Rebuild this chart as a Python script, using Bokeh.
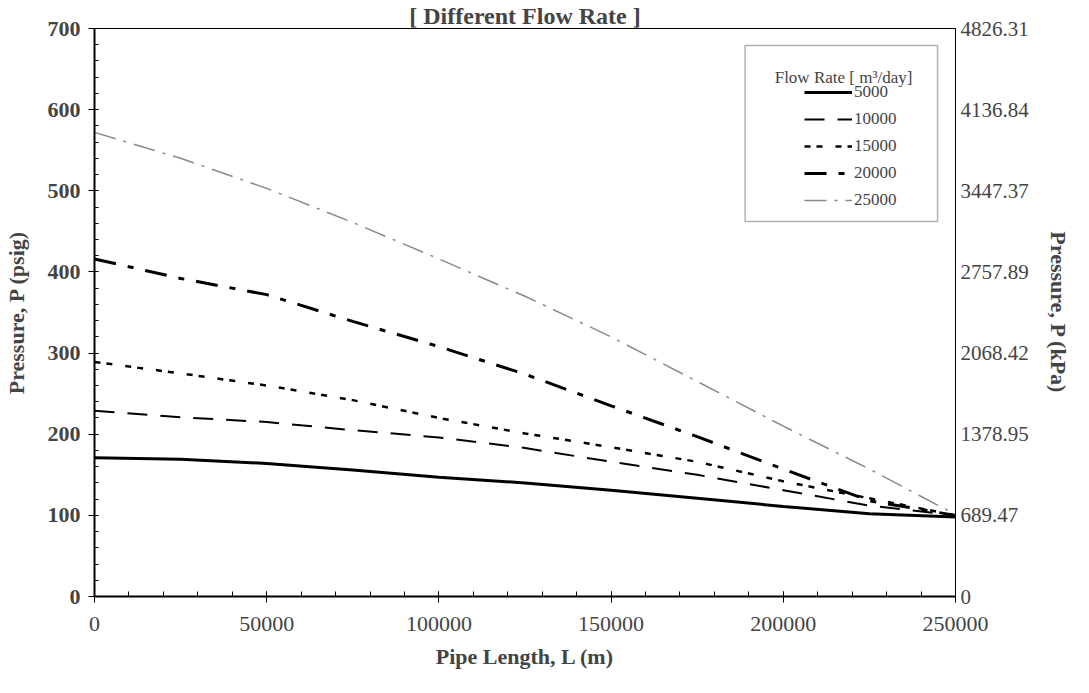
from bokeh.plotting import figure
from bokeh.models import (Range1d, LinearAxis, FixedTicker, SingleIntervalTicker,
                          CustomJSTickFormatter, BasicTickFormatter, Legend, LegendItem,
                          Label, BoxAnnotation, ColumnDataSource)
from bokeh.embed import file_html
from bokeh.resources import INLINE

# ---- data (pipe length in m, pressure in psig) ----
pipe_length = [0, 25000, 50000, 75000, 100000, 125000, 150000, 175000, 200000, 225000, 250000]
p_5000 = [171, 169, 164, 156, 147, 140, 131, 121, 111, 102, 98]
p_10000 = [229, 221, 215, 205, 196, 183, 166, 150, 131, 112, 100]
p_15000 = [289, 275, 260, 242, 220, 201, 184, 166, 142, 121, 100]
p_20000 = [416, 392, 372, 339, 308, 274, 235, 197, 157, 118, 100]
p_25000 = [572, 540, 503, 461, 416, 370, 320, 265, 210, 157, 101]
series_names = ["5000", "10000", "15000", "20000", "25000"]
kpa_ticks = [0, 689.47, 1378.95, 2068.42, 2757.89, 3447.37, 4136.84, 4826.31]

FONT = "Liberation Serif"

src = ColumnDataSource(dict(L=pipe_length, a=p_5000, b=p_10000, c=p_15000, d=p_20000, e=p_25000))

p = figure(width=1073, height=677, output_backend="svg", toolbar_location=None,
           x_range=Range1d(0, 250000), y_range=Range1d(0, 700),
           min_border_left=89, min_border_right=116, min_border_top=0, min_border_bottom=81)
p.extra_y_ranges = {"kpa": Range1d(0, 4826.31)}
p.grid.visible = False
p.background_fill_color = "white"
p.border_fill_color = "white"
p.outline_line_color = "black"
p.outline_line_width = 1

# title
p.title.text = "[ Different Flow Rate ]"
p.title.align = "center"
p.title.text_font = FONT
p.title.text_font_size = "24px"
p.title.text_font_style = "bold"
p.title.text_line_height = 0.6
p.title.standoff = 0
p.title.offset = 22

# bottom axis
xa = p.xaxis[0]
xa.ticker = SingleIntervalTicker(interval=50000, num_minor_ticks=5)
xa.formatter = BasicTickFormatter(use_scientific=False)
xa.axis_label = "Pipe Length, L (m)"
xa.axis_label_text_font = FONT
xa.axis_label_text_font_size = "22px"
xa.axis_label_text_font_style = "bold"
xa.axis_label_standoff = 10
xa.major_label_text_font = FONT
xa.major_label_text_font_size = "22px"
xa.major_label_standoff = 14
xa.axis_line_width = 2
xa.major_tick_in = 5
xa.major_tick_out = 6
xa.minor_tick_in = 5
xa.minor_tick_out = 0

# left axis
ya = p.yaxis[0]
ya.ticker = SingleIntervalTicker(interval=100, num_minor_ticks=5)
ya.axis_label = "Pressure, P (psig)"
ya.axis_label_text_font = FONT
ya.axis_label_text_font_size = "22px"
ya.axis_label_text_font_style = "bold"
ya.axis_label_standoff = 16
ya.major_label_text_font = FONT
ya.major_label_text_font_size = "22px"
ya.major_label_text_font_style = "bold"
ya.major_label_standoff = 8
ya.axis_line_width = 2
ya.major_tick_in = 4
ya.major_tick_out = 6
ya.minor_tick_in = 4
ya.minor_tick_out = 0

# right axis (kPa)
ra = LinearAxis(y_range_name="kpa", ticker=FixedTicker(ticks=kpa_ticks))
ra.formatter = CustomJSTickFormatter(code="return tick == 0 ? '0' : tick.toFixed(2);")
ra.axis_label = "Pressure, P (kPa)"
ra.axis_label_text_font = FONT
ra.axis_label_text_font_size = "22px"
ra.axis_label_text_font_style = "bold"
ra.axis_label_standoff = 14
ra.major_label_text_font = FONT
ra.major_label_text_font_size = "21px"
ra.major_label_standoff = 5
ra.major_tick_in = 0
ra.major_tick_out = 0
ra.minor_tick_in = 0
ra.minor_tick_out = 0
ra.axis_line_width = 1
p.add_layout(ra, "right")

# lines
r1 = p.line("L", "a", source=src, line_color="black", line_width=3)
r2 = p.line("L", "b", source=src, line_color="black", line_width=2, line_dash="20 13")
r3 = p.line("L", "c", source=src, line_color="black", line_width=2.5, line_dash="6 6 6 13")
r4 = p.line("L", "d", source=src, line_color="black", line_width=3, line_dash="22 12 6 12")
r5 = p.line("L", "e", source=src, line_color="#8a8a8a", line_width=1.5, line_dash="22 8 3 8")

# legend box + title
p.add_layout(BoxAnnotation(left=188900, right=244800, bottom=462, top=679,
                           fill_color="white", fill_alpha=1, line_color="black", line_width=1.5))
p.add_layout(Label(x=217500, y=640, text="Flow Rate [ m\u00b3/day]",
                   text_font=FONT, text_font_size="17px",
                   text_align="center", text_baseline="alphabetic"))
legend = Legend(items=[LegendItem(label=n, renderers=[r]) for n, r in zip(series_names, [r1, r2, r3, r4, r5])],
                location=(710, 386), padding=0, margin=0, border_line_color=None,
                background_fill_alpha=0, label_text_font=FONT, label_text_font_size="17px",
                glyph_width=48, glyph_height=20, label_height=20, label_standoff=2, spacing=7)
p.add_layout(legend)

open("out.html", "w").write(file_html(p, INLINE))
